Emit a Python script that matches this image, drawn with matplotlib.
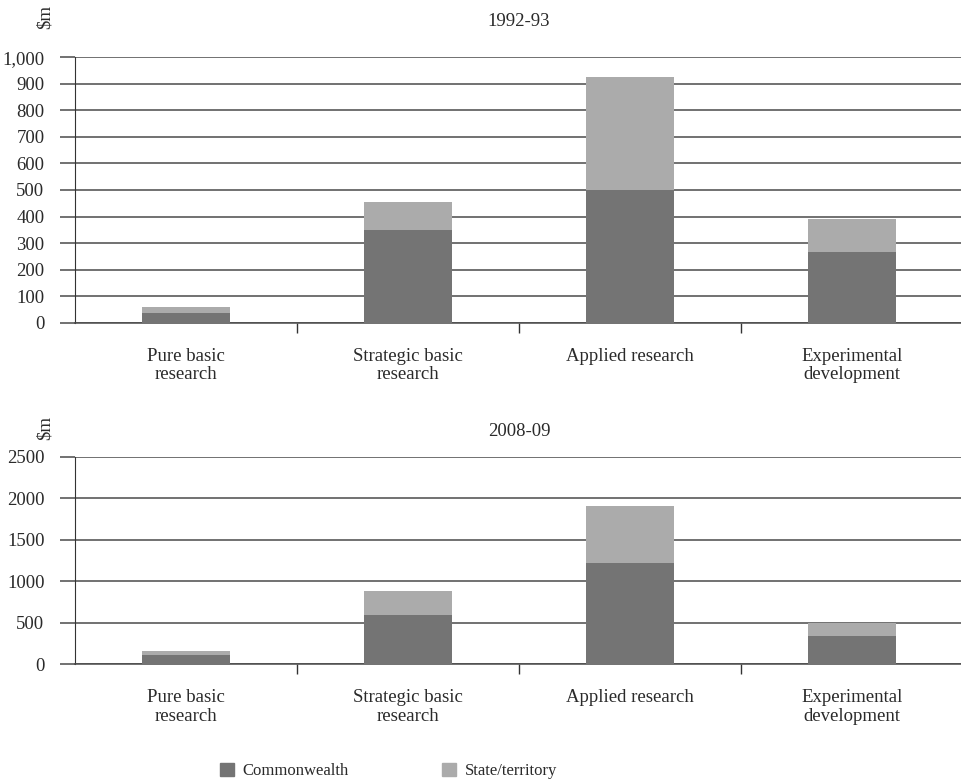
import matplotlib
matplotlib.use("Agg")
import matplotlib.pyplot as plt
import numpy as np
from matplotlib.ticker import FuncFormatter, FixedLocator
from matplotlib.patches import Patch

categories = ["Pure basic\nresearch", "Strategic basic\nresearch", "Applied research", "Experimental\ndevelopment"]
commonwealth_1992 = [35, 350, 500, 265]
state_1992 = [25, 105, 425, 125]
commonwealth_2008 = [110, 590, 1220, 345]
state_2008 = [45, 300, 695, 150]
series_names = ["Commonwealth", "State/territory"]
dark = "#747474"
light = "#ababab"
text_color = "#2a2a2a"

FS = 13.5
plt.rcParams['font.family'] = ['Liberation Serif', 'DejaVu Serif']
plt.rcParams['font.size'] = FS
plt.rcParams['text.color'] = text_color
plt.rcParams['xtick.color'] = text_color
plt.rcParams['ytick.color'] = text_color

W, H = 961, 782
fig = plt.figure(figsize=(W / 100, H / 100), dpi=100)

def px_axes(left, top, right, bottom):
    return fig.add_axes([left / W, 1 - bottom / H, (right - left) / W, (bottom - top) / H])

def draw(ax, comm, state, ymax, step, fmt, title, title_y, unit_y):
    x = np.arange(len(categories)) + 0.5
    ax.bar(x, comm, width=0.4, color=dark, zorder=3)
    ax.bar(x, state, width=0.4, bottom=comm, color=light, zorder=3)
    ax.set_xlim(0, len(categories))
    ax.set_ylim(0, ymax)
    ax.set_yticks(np.arange(0, ymax + 1, step))
    ax.yaxis.set_major_formatter(FuncFormatter(fmt))
    ax.grid(axis='y', color='#4a4a4a', linewidth=1.1, zorder=0)
    ax.set_axisbelow(True)
    ax.set_xticks(x)
    ax.set_xticklabels(categories, linespacing=1.1)
    ax.xaxis.set_minor_locator(FixedLocator([1, 2, 3]))
    ax.tick_params(axis='x', which='major', length=0, pad=18)
    ax.tick_params(axis='x', which='minor', length=7, width=1, color='#333333')
    ax.tick_params(axis='y', length=11, width=1.1, color='#4a4a4a', pad=11)
    for s in ['top', 'right']:
        ax.spines[s].set_visible(False)
    ax.spines['left'].set_color('#333333')
    ax.spines['bottom'].set_color('#4a4a4a')
    ax.spines['bottom'].set_linewidth(1.1)
    fig.text(519 / W, 1 - title_y / H, title, ha='center', va='center', fontsize=FS)
    fig.text(45 / W, 1 - unit_y / H, "$m", rotation=90, ha='center', va='center', fontsize=FS)

ax1 = px_axes(75, 57.3, 963, 322.7)
draw(ax1, commonwealth_1992, state_1992, 1000, 100, lambda v, p: f"{int(v):,}", "1992-93", 22, 17)
ax2 = px_axes(75, 457, 963, 664.3)
draw(ax2, commonwealth_2008, state_2008, 2500, 500, lambda v, p: f"{int(v)}", "2008-09", 431, 428)

handles = [Patch(color=dark), Patch(color=light)]
fig.legend(handles, series_names, loc='center left', bbox_to_anchor=(205 / W, 1 - 771 / H),
           ncol=2, frameon=False, handlelength=0.85, handleheight=0.85, columnspacing=5.6,
           handletextpad=0.5, fontsize=12)

fig.savefig("out.png", dpi=100)
